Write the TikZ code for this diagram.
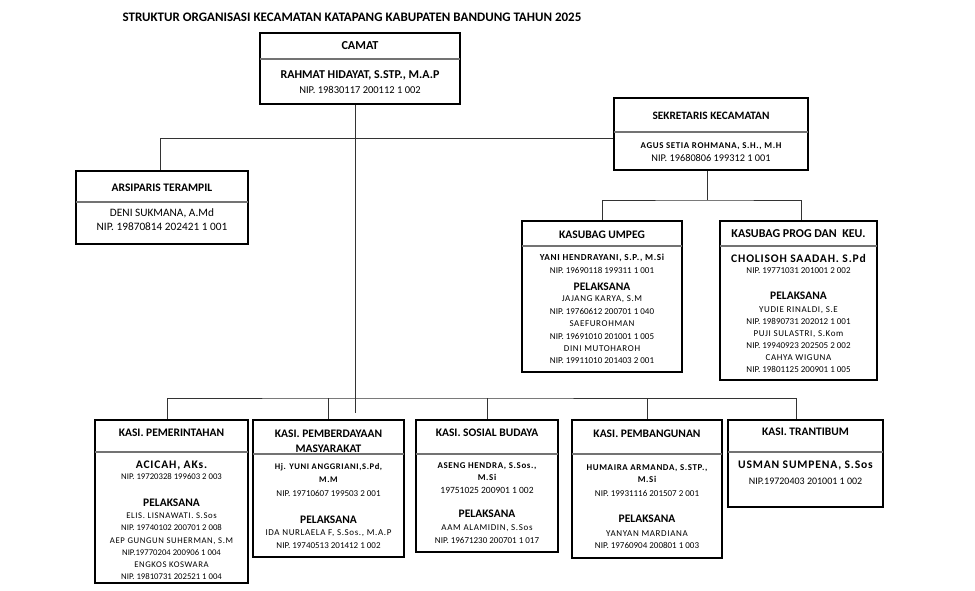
\documentclass[tikz,border=0pt]{standalone}
\usepackage{fontspec}
\setmainfont{Carlito}
\newfontfamily\trk[LetterSpace=7]{Carlito}
\newfontfamily\trl[LetterSpace=7]{Carlito}
\usetikzlibrary{positioning}

\begin{document}
\begin{tikzpicture}[x=1pt,y=-1pt,
    box/.style={draw=black, line width=2pt, inner sep=0pt},
    divider/.style={draw=black!55, line width=1.4pt, shorten <=1pt, shorten >=1pt},
    conn/.style={draw=black!80, line width=0.9pt},
    txt/.style={inner sep=0pt, align=center},
    head/.style={txt, font=\fontsize{11.5}{15}\selectfont\bfseries},
    nmbig/.style={txt, font=\fontsize{11.6}{13}\selectfont\trk\bfseries},
    nm/.style={txt, font=\fontsize{8.9}{12.5}\selectfont\trk\bfseries},
    nip/.style={txt, font=\fontsize{9}{12.4}\selectfont},
    plain/.style={txt, font=\fontsize{11.3}{14}\selectfont}]

  \useasboundingbox (0,0) rectangle (975,591);

  % Title
  \node[txt, font=\fontsize{13}{15}\selectfont\bfseries] (title) at (352,17)
    {STRUKTUR ORGANISASI KECAMATAN KATAPANG KABUPATEN BANDUNG TAHUN 2025};

  % Camat
  \node[box, minimum width=200, minimum height=71] (camat) at (360,68.5) {};
  \draw[divider] ([yshift=-27pt]camat.north west) -- ([yshift=-27pt]camat.north east);
  \node[head, font=\fontsize{12.2}{14}\selectfont\bfseries] (camat-t) at (360,46) {CAMAT};
  \node[head, font=\fontsize{12}{14}\selectfont\bfseries] (camat-n) at (360,75) {RAHMAT HIDAYAT, S.STP., M.A.P};
  \node[nip, font=\fontsize{10.5}{12}\selectfont] (camat-p) at (360,90) {NIP. 19830117 200112 1 002};

  % Sekretaris
  \node[box, minimum width=194, minimum height=72] (sek) at (711,134) {};
  \draw[divider] ([yshift=-35pt]sek.north west) -- ([yshift=-35pt]sek.north east);
  \node[head, font=\fontsize{11.3}{14}\selectfont\bfseries] (sek-t) at (711,116) {SEKRETARIS KECAMATAN};
  \node[nm] (sek-n) at (711,146) {AGUS SETIA ROHMANA, S.H., M.H};
  \node[nip, font=\fontsize{10.3}{12}\selectfont] (sek-p) at (711,158) {NIP. 19680806 199312 1 001};

  % Arsiparis
  \node[box, minimum width=172, minimum height=73] (arsip) at (162,207.5) {};
  \draw[divider] ([yshift=-32pt]arsip.north west) -- ([yshift=-32pt]arsip.north east);
  \node[head] (arsip-t) at (162,188) {ARSIPARIS TERAMPIL};
  \node[plain] (arsip-n) at (162,220) {DENI SUKMANA, A.Md\\NIP. 19870814 202421 1 001};

  % Kasubag Umpeg
  \node[box, minimum width=160, minimum height=151] (umpeg) at (602,296.5) {};
  \draw[divider] ([yshift=-26pt]umpeg.north west) -- ([yshift=-26pt]umpeg.north east);
  \node[head] (umpeg-t) at (602,235) {KASUBAG UMPEG};
  \node[nm, font=\fontsize{9.2}{12}\selectfont\trk\bfseries] (umpeg-n) at (602,258) {YANI HENDRAYANI, S.P., M.Si};
  \node[nip] (umpeg-p) at (602,270) {NIP. 19690118 199311 1 001};
  \node[head] (umpeg-h) at (602,287) {PELAKSANA};
  \node[nip] (umpeg-l) at (602,330) {{\trl JAJANG KARYA, S.M}\\NIP. 19760612 200701 1 040\\{\trl SAEFUROHMAN}\\
    NIP. 19691010 201001 1 005\\{\trl DINI MUTOHAROH}\\NIP. 19911010 201403 2 001};

  % Kasubag Program dan Keuangan
  \node[box, minimum width=157, minimum height=159] (prog) at (798.5,300.5) {};
  \draw[divider] ([yshift=-26pt]prog.north west) -- ([yshift=-26pt]prog.north east);
  \node[head, font=\fontsize{12}{14}\selectfont\bfseries] (prog-t) at (798.5,234) {KASUBAG PROG DAN~ KEU.};
  \node[nmbig] (prog-n) at (798.5,258) {CHOLISOH SAADAH. S.Pd};
  \node[nip] (prog-p) at (798.5,271) {NIP. 19771031 201001 2 002};
  \node[head] (prog-h) at (798.5,296) {PELAKSANA};
  \node[nip, font=\fontsize{9}{12}\selectfont] (prog-l) at (798.5,340) {{\trl YUDIE RINALDI, S.E}\\NIP. 19890731 202012 1 001\\
    {\trl PUJI SULASTRI, S.Kom}\\NIP. 19940923 202505 2 002\\{\trl CAHYA WIGUNA}\\NIP. 19801125 200901 1 005};

  % Kasi Pemerintahan
  \node[box, minimum width=153, minimum height=163] (pem) at (171.5,501.5) {};
  \draw[divider] ([yshift=-33pt]pem.north west) -- ([yshift=-33pt]pem.north east);
  \node[head] (pem-t) at (171.5,433) {KASI. PEMERINTAHAN};
  \node[nmbig] (pem-n) at (171.5,465) {ACICAH, AKs.};
  \node[nip, font=\fontsize{8.7}{12}\selectfont] (pem-p) at (171.5,477) {NIP. 19720328 199603 2 003};
  \node[head] (pem-h) at (171.5,503) {PELAKSANA};
  \node[nip, font=\fontsize{8.7}{12.2}\selectfont] (pem-l) at (171.5,546.5) {{\trl ELIS. LISNAWATI. S.Sos}\\NIP. 19740102 200701 2 008\\
    {\trl AEP GUNGUN SUHERMAN, S.M}\\NIP.19770204 200906 1 004\\{\trl ENGKOS KOSWARA}\\NIP. 19810731 202521 1 004};

  % Kasi Pemberdayaan Masyarakat
  \node[box, minimum width=151, minimum height=137] (pmb) at (328.5,488.5) {};
  \draw[divider] ([yshift=-35pt]pmb.north west) -- ([yshift=-35pt]pmb.north east);
  \node[head] (pmb-t) at (328.5,441.5) {KASI. PEMBERDAYAAN\\MASYARAKAT};
  \node[nm, font=\fontsize{8.6}{13}\selectfont\trk\bfseries] (pmb-n) at (328.5,473.5) {Hj. YUNI ANGGRIANI,S.Pd,\\M.M};
  \node[nip] (pmb-p) at (328.5,493) {NIP. 19710607 199503 2 001};
  \node[head] (pmb-h) at (328.5,520) {PELAKSANA};
  \node[nip, font=\fontsize{9}{13}\selectfont] (pmb-l) at (328.5,539.5) {{\trl IDA NURLAELA F, S.Sos., M.A.P}\\NIP. 19740513 201412 1 002};

  % Kasi Sosial Budaya
  \node[box, minimum width=142, minimum height=132] (sos) at (487,486) {};
  \draw[divider] ([yshift=-35pt]sos.north west) -- ([yshift=-35pt]sos.north east);
  \node[head] (sos-t) at (487,433) {KASI. SOSIAL BUDAYA};
  \node[nm, font=\fontsize{8.9}{12}\selectfont\trk\bfseries] (sos-n) at (487,472) {ASENG HENDRA, S.Sos.,\\M.Si};
  \node[nip, font=\fontsize{9.5}{12}\selectfont] (sos-p) at (487,490) {19751025 200901 1 002};
  \node[head] (sos-h) at (487,514) {PELAKSANA};
  \node[nip, font=\fontsize{9}{13}\selectfont] (sos-l) at (487,534.5) {{\trl AAM ALAMIDIN, S.Sos}\\NIP. 19671230 200701 1 017};

  % Kasi Pembangunan
  \node[box, minimum width=150, minimum height=138] (bgn) at (647,489) {};
  \draw[divider] ([yshift=-35pt]bgn.north west) -- ([yshift=-35pt]bgn.north east);
  \node[head] (bgn-t) at (647,434) {KASI. PEMBANGUNAN};
  \node[nm, font=\fontsize{8.9}{12}\selectfont\trk\bfseries] (bgn-n) at (647,474) {HUMAIRA ARMANDA, S.STP.,\\M.Si};
  \node[nip] (bgn-p) at (647,493) {NIP. 19931116 201507 2 001};
  \node[head] (bgn-h) at (647,519) {PELAKSANA};
  \node[nip, font=\fontsize{9}{12}\selectfont] (bgn-l) at (647,540) {{\trl YANYAN MARDIANA}\\NIP. 19760904 200801 1 003};

  % Kasi Trantibum
  \node[box, minimum width=155, minimum height=87] (trant) at (805.5,463.5) {};
  \draw[divider] ([yshift=-33pt]trant.north west) -- ([yshift=-33pt]trant.north east);
  \node[head] (trant-t) at (805.5,432) {KASI. TRANTIBUM};
  \node[nmbig] (trant-n) at (805.5,465) {USMAN SUMPENA, S.Sos};
  \node[nip, font=\fontsize{10}{12}\selectfont] (trant-p) at (805.5,481) {NIP.19720403 201001 1 002};

  % Connectors
  \coordinate (camatend) at (355,413);
  \coordinate (sekbus) at (707,200);
  \coordinate (bus) at (355,398);

  \draw[conn] ([xshift=-5pt]camat.south) -- (camatend);
  \draw[conn] ([xshift=-2pt]arsip.north) |- ([yshift=-4pt]sek.west);
  \draw[conn] ([xshift=-4pt]sek.south) -- (sekbus);
  \draw[conn] (umpeg.north) |- (sekbus) -| ([xshift=3pt]prog.north);
  \draw[conn] ([xshift=-4pt]pem.north) |- (bus) -| ([xshift=-9pt]trant.north);
  \draw[conn] (pmb.north) -- (pmb.north |- bus);
  \draw[conn] (sos.north) -- (sos.north |- bus);
  \draw[conn] (bgn.north) -- (bgn.north |- bus);
\end{tikzpicture}
\end{document}
